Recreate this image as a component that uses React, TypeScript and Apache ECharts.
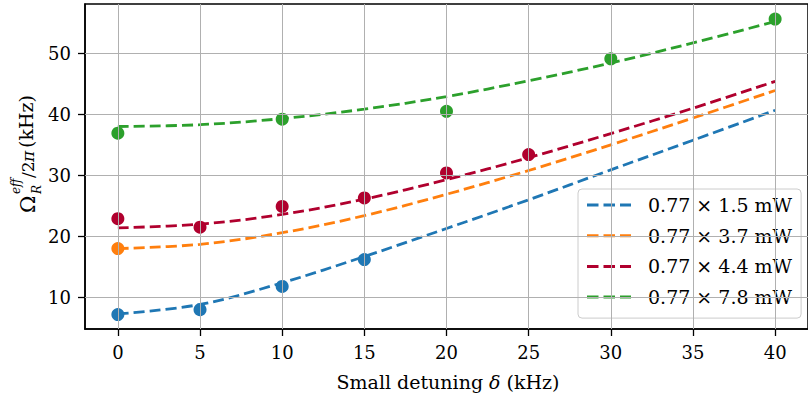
import React, { useEffect, useRef } from "react";
import * as echarts from "echarts";

const xTicks = [0, 5, 10, 15, 20, 25, 30, 35, 40];
const yTicks = [10, 20, 30, 40, 50];

const seriesNames = ["0.77 × 1.5 mW", "0.77 × 3.7 mW", "0.77 × 4.4 mW", "0.77 × 7.8 mW"];
const colors = ["#1f77b4", "#ff7f0e", "#b0002e", "#2ca02c"];

// fitted curves, read at each 5 kHz step
const fitX = [0, 5, 10, 15, 20, 25, 30, 35, 40];
const fitBlue = [7.3, 8.85, 12.4, 16.7, 21.3, 26.0, 30.9, 35.75, 40.66];
const fitOrange = [18.0, 18.7, 20.6, 23.4, 26.9, 30.8, 35.0, 39.4, 43.9];
const fitRed = [21.4, 22.0, 23.6, 26.1, 29.3, 32.9, 36.85, 41.0, 45.4];
const fitGreen = [38.0, 38.3, 39.3, 40.85, 42.9, 45.5, 48.4, 51.7, 55.2];

// measured points
const ptsBlueX = [0, 5, 10, 15];
const ptsBlueY = [7.2, 8.0, 11.8, 16.2];
const ptsOrangeX = [0];
const ptsOrangeY = [18.0];
const ptsRedX = [0, 5, 10, 15, 20, 25];
const ptsRedY = [22.9, 21.5, 24.9, 26.3, 30.4, 33.4];
const ptsGreenX = [0, 10, 20, 30, 40];
const ptsGreenY = [36.9, 39.2, 40.5, 49.1, 55.6];

const fits = [fitBlue, fitOrange, fitRed, fitGreen];
const ptsX = [ptsBlueX, ptsOrangeX, ptsRedX, ptsGreenX];
const ptsY = [ptsBlueY, ptsOrangeY, ptsRedY, ptsGreenY];

const FONT = "'DejaVu Serif', serif";
const DASH_ICON = "path://M0,0H11.5V3H0Z M16.5,0H28V3H16.5Z M33,0H44V3H33Z";

export default function App() {
  const ref = useRef<HTMLDivElement>(null);
  useEffect(() => {
    if (!ref.current) return;
    const chart = echarts.init(ref.current, null, { renderer: "svg" });
    const series: any[] = [];
    series.push({
      type: "line",
      data: [],
      z: 1,
      silent: true,
      markLine: {
        silent: true,
        symbol: "none",
        label: { show: false },
        lineStyle: { color: "#b0b0b0", width: 1, type: "solid" },
        data: [
          ...yTicks.map((v) => ({ yAxis: v })),
          ...xTicks.map((v) => ({ xAxis: v })),
        ],
      },
    });
    for (let i = 0; i < 4; i++) {
      series.push({
        type: "scatter",
        name: "pts" + i,
        data: ptsX[i].map((x, j) => [x, ptsY[i][j]]),
        symbol: "circle",
        symbolSize: 13,
        itemStyle: { color: colors[i], opacity: 1 },
        z: 3,
      });
      series.push({
        type: "line",
        name: seriesNames[i],
        data: fitX.map((x, j) => [x, fits[i][j]]),
        smooth: 0.35,
        symbol: "none",
        showSymbol: false,
        color: colors[i],
        itemStyle: { color: colors[i] },
        lineStyle: { color: colors[i], width: 2.8, type: [11, 5] },
        z: 4,
      });
    }
    const option: any = {
      animation: false,
      grid: { left: 85, top: 4, right: -3, bottom: 72, show: true, borderColor: "#000", borderWidth: 1.5, backgroundColor: "transparent" },
      xAxis: {
        type: "value",
        min: -2,
        max: 42,
        axisLine: { onZero: false, lineStyle: { color: "#000", width: 1.5 } },
        axisTick: { show: true, length: 7, lineStyle: { color: "#000", width: 1.3 }, customValues: xTicks },
        axisLabel: { customValues: xTicks, color: "#000", fontFamily: FONT, fontSize: 18, margin: 14 },
        splitLine: { show: false },
      },
      yAxis: {
        type: "value",
        min: 4.83,
        max: 58.07,
        axisLine: { onZero: false, lineStyle: { color: "#000", width: 1.5 } },
        axisTick: { show: true, length: 7, lineStyle: { color: "#000", width: 1.3 }, customValues: yTicks },
        axisLabel: { customValues: yTicks, color: "#000", fontFamily: FONT, fontSize: 18, margin: 14 },
        splitLine: { show: false },
      },
      legend: {
        data: seriesNames.map((n) => ({ name: n, icon: DASH_ICON })),
        orient: "vertical",
        left: 578,
        top: 189,
        itemWidth: 44,
        itemHeight: 3,
        itemGap: 10.7,
        padding: [6, 9, 11, 9],
        backgroundColor: "rgba(255,255,255,0.8)",
        borderColor: "#cccccc",
        borderWidth: 1,
        borderRadius: 4,
        textStyle: { fontFamily: FONT, fontSize: 19, color: "#000", lineHeight: 20, padding: [0, 0, 0, 12] },
      },
      graphic: [
        {
          type: "text",
          x: 448,
          y: 382,
          style: {
            text: "Small detuning {i|δ} (kHz)",
            font: `19px ${FONT}`,
            fill: "#000",
            align: "center",
            verticalAlign: "middle",
            rich: { i: { fontStyle: "italic", fontFamily: FONT, fontSize: 19 } },
          },
        },
        {
          type: "group",
          x: 0,
          y: 213,
          rotation: Math.PI / 2,
          children: [
            { type: "text", x: 0, y: 28, style: { text: "Ω", font: `21px ${FONT}`, fill: "#000", align: "left", verticalAlign: "middle" } },
            { type: "text", x: 19, y: 37, style: { text: "R", font: `italic 12px ${FONT}`, fill: "#000", align: "left", verticalAlign: "middle" } },
            { type: "text", x: 19, y: 16, style: { text: "eff", font: `italic 12px ${FONT}`, fill: "#000", align: "left", verticalAlign: "middle" } },
            { type: "text", x: 35, y: 28, style: { text: "/2", font: `17px ${FONT}`, fill: "#000", align: "left", verticalAlign: "middle" } },
            { type: "text", x: 51, y: 28, style: { text: "π", font: `italic 17px ${FONT}`, fill: "#000", align: "left", verticalAlign: "middle" } },
            { type: "text", x: 65, y: 26, style: { text: "(kHz)", font: `19px ${FONT}`, fill: "#000", align: "left", verticalAlign: "middle" } },
          ],
        },
      ],
      series,
    };
    chart.setOption(option);
    return () => chart.dispose();
  }, []);
  return <div ref={ref} style={{ width: 808, height: 401, position: "absolute", left: 0, top: 0 }} />;
}
